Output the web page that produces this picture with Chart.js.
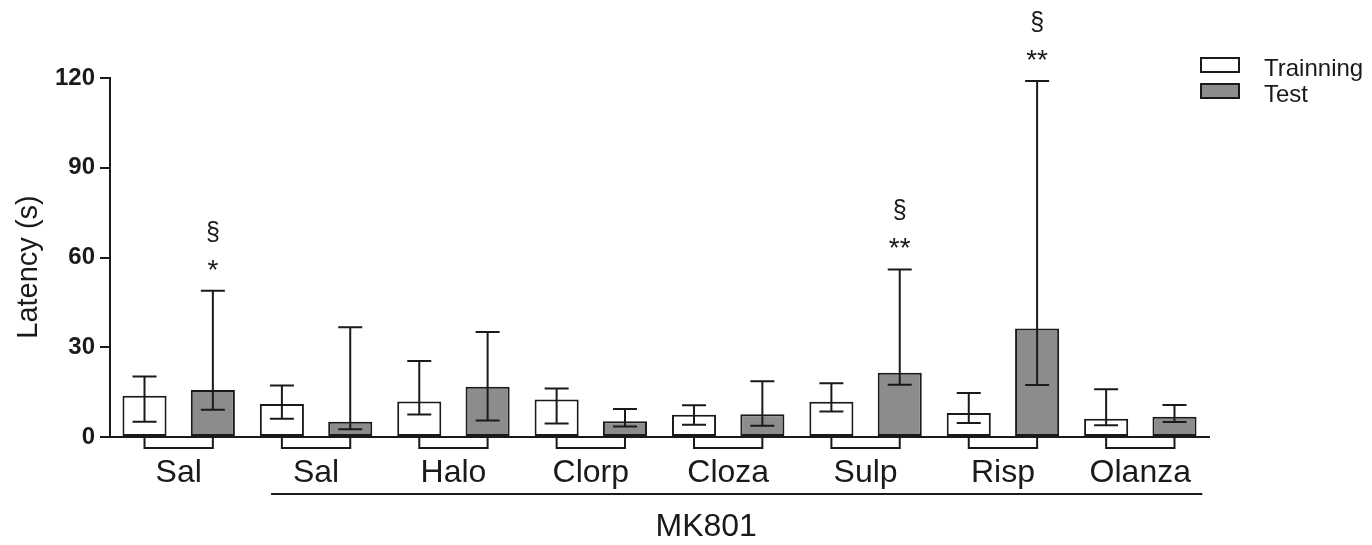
<!DOCTYPE html>
<html>
<head>
<meta charset="utf-8">
<script src="https://cdn.jsdelivr.net/npm/chart.js@4.4.1/dist/chart.umd.min.js"></script>
<style>
  html, body { margin: 0; padding: 0; background: #ffffff; }
  #wrap { width: 1372px; height: 545px; }
</style>
</head>
<body>
<div id="wrap"><canvas id="c" width="1372" height="545"></canvas></div>
<script>
// ---- data ----
const categories = ['Sal', 'Sal', 'Halo', 'Clorp', 'Cloza', 'Sulp', 'Risp', 'Olanza'];
const seriesNames = ['Trainning', 'Test'];
const trainingMedian = [13.8, 11.0, 11.9, 12.5, 7.4, 11.8, 8.0, 6.1];
const trainingLow    = [5.1, 6.1, 7.5, 4.5, 4.1, 8.5, 4.7, 3.9];
const trainingHigh   = [20.2, 17.2, 25.4, 16.2, 10.6, 18.0, 14.7, 16.0];
const testMedian     = [15.7, 5.1, 16.8, 5.3, 7.6, 21.5, 36.3, 6.8];
const testLow        = [9.1, 2.6, 5.5, 3.5, 3.8, 17.5, 17.4, 5.0];
const testHigh       = [48.9, 36.7, 35.1, 9.4, 18.6, 56.0, 119.0, 10.7];
const starMarks      = ['*', '', '', '', '', '**', '**', ''];
const sectionMarks   = ['§', '', '', '', '', '§', '§', ''];
const yTicks = [0, 30, 60, 90, 120];
const yTitle = 'Latency (s)';
const groupLabel = 'MK801';

const FONT = '"Liberation Sans", Arial, Helvetica, sans-serif';
const INK = '#1a1a1a';
const GRAY = '#8c8c8c';

const extrasPlugin = {
  id: 'extras',
  afterDatasetsDraw(chart) {
    const ctx = chart.ctx;
    const y = chart.scales.y;
    const x = chart.scales.x;
    const lows = [trainingLow, testLow];
    const highs = [trainingHigh, testHigh];
    ctx.save();
    ctx.strokeStyle = INK;
    ctx.lineWidth = 2;
    // error bars
    for (let d = 0; d < 2; d++) {
      const meta = chart.getDatasetMeta(d);
      meta.data.forEach((bar, i) => {
        const yl = y.getPixelForValue(lows[d][i]);
        const yh = y.getPixelForValue(highs[d][i]);
        const cx = bar.x;
        ctx.beginPath();
        ctx.moveTo(cx, yl); ctx.lineTo(cx, yh);
        ctx.moveTo(cx - 12, yh); ctx.lineTo(cx + 12, yh);
        ctx.moveTo(cx - 12, yl); ctx.lineTo(cx + 12, yl);
        ctx.stroke();
      });
    }
    // brackets under each pair
    const m0 = chart.getDatasetMeta(0), m1 = chart.getDatasetMeta(1);
    const y0 = y.getPixelForValue(0) + 1;
    m0.data.forEach((bar, i) => {
      const xa = bar.x, xb = m1.data[i].x;
      ctx.beginPath();
      ctx.moveTo(xa, y0); ctx.lineTo(xa, y0 + 10); ctx.lineTo(xb, y0 + 10); ctx.lineTo(xb, y0);
      ctx.stroke();
    });
    // significance marks
    ctx.fillStyle = INK;
    ctx.textAlign = 'center';
    ctx.textBaseline = 'alphabetic';
    m1.data.forEach((bar, i) => {
      const yh = y.getPixelForValue(testHigh[i]);
      if (starMarks[i]) {
        ctx.font = '28px ' + FONT;
        ctx.fillText(starMarks[i], bar.x, yh - 12);
      }
      if (sectionMarks[i]) {
        ctx.font = '25px ' + FONT;
        ctx.fillText(sectionMarks[i], bar.x, yh - 51);
      }
    });
    // MK801 line and label
    const lx0 = x.getPixelForValue(1) - 45;
    const lx1 = x.getPixelForValue(7) + 62;
    ctx.beginPath();
    ctx.moveTo(lx0, 494); ctx.lineTo(lx1, 494);
    ctx.stroke();
    ctx.font = '32px ' + FONT;
    ctx.textBaseline = 'middle';
    ctx.fillText(groupLabel, x.getPixelForValue(4) - 22, 527);
    // y title
    ctx.save();
    ctx.translate(29, 267);
    ctx.rotate(-Math.PI / 2);
    ctx.font = '29px ' + FONT;
    ctx.fillText(yTitle, 0, 0);
    ctx.restore();
    // legend
    const fills = ['#ffffff', GRAY];
    ctx.textAlign = 'left';
    ctx.font = '24px ' + FONT;
    for (let d = 0; d < 2; d++) {
      const by = 58 + d * 26;
      ctx.fillStyle = fills[d];
      ctx.fillRect(1201, by, 38, 14);
      ctx.strokeRect(1201, by, 38, 14);
      ctx.fillStyle = INK;
      ctx.fillText(seriesNames[d], 1264, by + 11);
    }
    ctx.restore();
  }
};

new Chart(document.getElementById('c'), {
  type: 'bar',
  data: {
    labels: categories,
    datasets: [
      { label: seriesNames[0], data: trainingMedian, backgroundColor: '#ffffff', borderColor: INK, borderWidth: 2, borderSkipped: false },
      { label: seriesNames[1], data: testMedian, backgroundColor: GRAY, borderColor: INK, borderWidth: 2, borderSkipped: false }
    ]
  },
  options: {
    responsive: false,
    animation: false,
    layout: { padding: { left: 0, right: 163, top: 78, bottom: 0 } },
    datasets: { bar: { categoryPercentage: 0.995, barPercentage: 0.645 } },
    plugins: { legend: { display: false }, tooltip: { enabled: false }, title: { display: false } },
    scales: {
      x: {
        grid: { display: false },
        border: { display: true, color: INK, width: 2 },
        ticks: { color: INK, font: { family: FONT, size: 32 }, padding: 9 },
        afterFit(s) { s.height = 108; }
      },
      y: {
        min: 0, max: 120,
        afterBuildTicks(s) { s.ticks = yTicks.map(v => ({ value: v })); },
        grid: { drawOnChartArea: false, drawTicks: true, tickLength: 10, color: INK, lineWidth: 2 },
        border: { display: true, color: INK, width: 2 },
        ticks: { color: INK, font: { family: FONT, size: 24, weight: 'bold' }, padding: 5 },
        afterFit(s) { s.width = 110; }
      }
    }
  },
  plugins: [extrasPlugin]
});
</script>
</body>
</html>
